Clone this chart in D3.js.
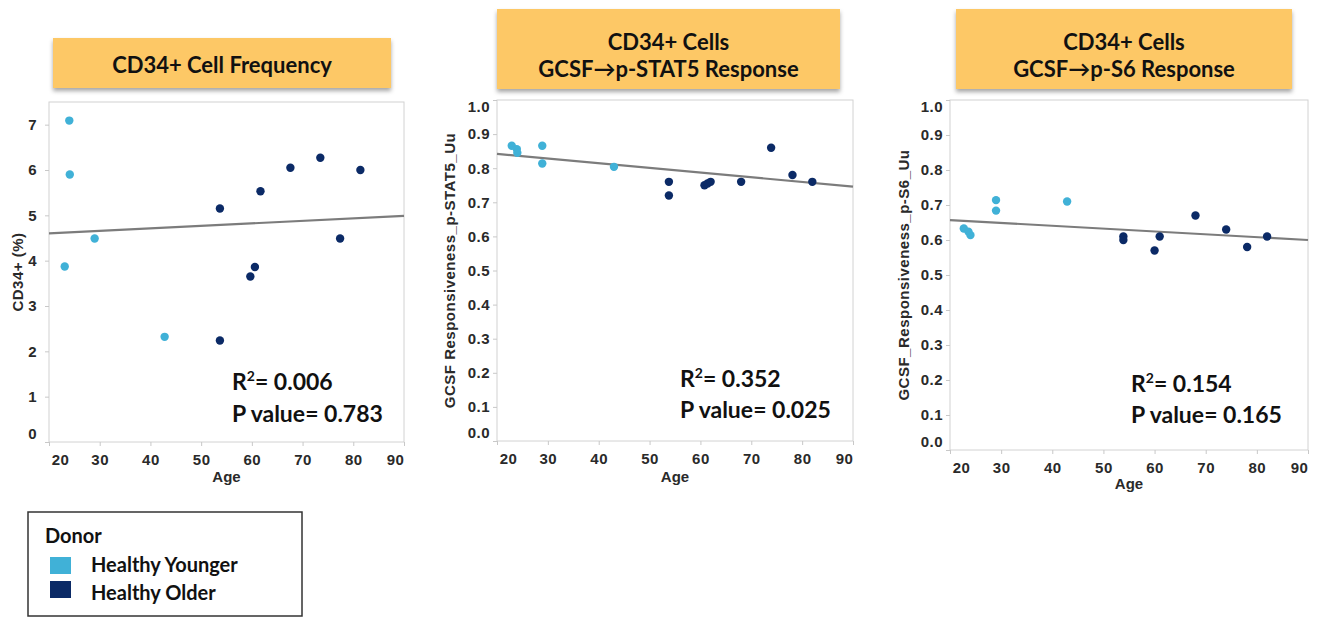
<!DOCTYPE html>
<html>
<head>
<meta charset="utf-8">
<script src="https://cdn.jsdelivr.net/npm/d3@7"></script>
<style>
body { margin: 0; background: #fff; }
.tick text { font-family: "Liberation Sans", Arial, sans-serif; font-weight: bold; font-size: 15px; fill: #2a2a2a; letter-spacing: 0.5px; }
.tick line { stroke: #c8c8c8; }
.axis-title { font-family: "Liberation Sans", Arial, sans-serif; font-weight: bold; font-size: 15px; fill: #2a2a2a; }
.header { font-family: Lato, "Open Sans", sans-serif; font-weight: bold; font-size: 22px; fill: #111; }
.stat { font-family: Lato, "Open Sans", sans-serif; font-weight: bold; font-size: 23px; fill: #111; }
.legend { font-family: Lato, "Open Sans", sans-serif; font-weight: bold; font-size: 20px; fill: #111; }
</style>
</head>
<body>
<svg id="chart" width="1321" height="618"></svg>
<script>
// donor groups
var groups = ["Healthy Younger", "Healthy Older"];
var groupColors = ["#40b1d7", "#0b2a66"];

// CD34+ cell frequency (%)
var freqYoungAge = [24.0, 24.1, 29.0, 23.1, 42.8];
var freqYoungVal = [7.09, 5.90, 4.49, 3.87, 2.32];
var freqOldAge = [53.7, 53.7, 61.7, 59.7, 60.6, 67.6, 73.5, 77.4, 81.4];
var freqOldVal = [5.15, 2.24, 5.53, 3.65, 3.86, 6.05, 6.27, 4.49, 6.00];
var freqFit = [4.60, 4.99];   // fitted value at age 20 and 90

// GCSF -> p-STAT5 responsiveness
var stat5YoungAge = [22.9, 23.9, 24.0, 28.9, 28.9, 43.0];
var stat5YoungVal = [0.866, 0.856, 0.845, 0.866, 0.814, 0.804];
var stat5OldAge = [53.8, 53.8, 60.8, 61.4, 62.0, 68.0, 73.9, 78.1, 82.0];
var stat5OldVal = [0.76, 0.72, 0.75, 0.755, 0.76, 0.76, 0.86, 0.78, 0.76];
var stat5Fit = [0.842, 0.746];

// GCSF -> p-S6 responsiveness
var s6YoungAge = [22.7, 23.6, 24.0, 29.0, 29.0, 42.9];
var s6YoungVal = [0.633, 0.624, 0.614, 0.714, 0.684, 0.71];
var s6OldAge = [53.9, 53.9, 60.0, 61.0, 68.0, 74.0, 78.1, 82.0];
var s6OldVal = [0.61, 0.60, 0.57, 0.61, 0.67, 0.63, 0.58, 0.61];
var s6Fit = [0.657, 0.600];

var fitAges = [20, 90];
var ageTicks = [20, 30, 40, 50, 60, 70, 80, 90];
var freqTicks = [0, 1, 2, 3, 4, 5, 6, 7];
var respTicks = [0, 0.1, 0.2, 0.3, 0.4, 0.5, 0.6, 0.7, 0.8, 0.9, 1.0];

var panels = [
    { title: ["CD34+ Cell Frequency"], box: [53, 38, 338, 50], titleY: [73],
      frame: [49, 102, 355, 340], yMax: 7.5, yTicks: freqTicks, fmt: "d",
      yTitle: "CD34+ (%)", yTitleX: 23, ageY: 482,
      young: [freqYoungAge, freqYoungVal], old: [freqOldAge, freqOldVal], fit: freqFit,
      r2: "0.006", p: "0.783", statX: 232, statY: [390, 422] },
    { title: ["CD34+ Cells", "GCSF\u2192p-STAT5 Response"], box: [497, 9, 343, 80], titleY: [50, 77],
      frame: [497, 100, 356, 341], yMax: 1.0, yTicks: respTicks, fmt: ".1f",
      yTitle: "GCSF Responsiveness_p-STAT5_Uu", yTitleX: 455, ageY: 482,
      young: [stat5YoungAge, stat5YoungVal], old: [stat5OldAge, stat5OldVal], fit: stat5Fit,
      r2: "0.352", p: "0.025", statX: 680, statY: [387, 418] },
    { title: ["CD34+ Cells", "GCSF\u2192p-S6 Response"], box: [956, 9, 336, 80], titleY: [50, 77],
      frame: [950, 100, 358, 350], yMax: 1.0, yTicks: respTicks, fmt: ".1f",
      yTitle: "GCSF_Responsiveness_p-S6_Uu", yTitleX: 909, ageY: 489,
      young: [s6YoungAge, s6YoungVal], old: [s6OldAge, s6OldVal], fit: s6Fit,
      r2: "0.154", p: "0.165", statX: 1131, statY: [392, 423] }
];

var svg = d3.select("#chart");

var filter = svg.append("defs").append("filter")
    .attr("id", "shadow")
    .attr("x", "-5%").attr("y", "-10%")
    .attr("width", "110%").attr("height", "130%");
filter.append("feDropShadow")
    .attr("dx", 0).attr("dy", 3)
    .attr("stdDeviation", 2)
    .attr("flood-color", "#000")
    .attr("flood-opacity", 0.35);

panels.forEach(function (p) {
    var fx = p.frame[0], fy = p.frame[1], fw = p.frame[2], fh = p.frame[3];

    // header box
    svg.append("rect")
        .attr("x", p.box[0]).attr("y", p.box[1])
        .attr("width", p.box[2]).attr("height", p.box[3])
        .attr("fill", "#fdc866")
        .attr("filter", "url(#shadow)");
    p.title.forEach(function (t, i) {
        svg.append("text")
            .attr("class", "header")
            .attr("x", p.box[0] + p.box[2] / 2)
            .attr("y", p.titleY[i])
            .attr("text-anchor", "middle")
            .text(t);
    });

    var x = d3.scaleLinear().domain([20, 90]).range([0, fw]);
    var y = d3.scaleLinear().domain([0, p.yMax]).range([fh, 0]);

    var g = svg.append("g").attr("transform", "translate(" + fx + "," + fy + ")");

    g.append("rect")
        .attr("width", fw).attr("height", fh)
        .attr("fill", "#fff")
        .attr("stroke", "#d2d2d2");

    var xAxis = g.append("g")
        .attr("transform", "translate(0," + fh + ")")
        .call(d3.axisBottom(x).tickValues(ageTicks).tickSize(4).tickSizeOuter(0).tickPadding(8));
    xAxis.select(".domain").remove();
    // end labels are pulled inward, like the original
    xAxis.selectAll(".tick text")
        .attr("dx", function (d) { return d === 20 ? 11 : (d === 90 ? -9 : 0); });

    var yAxis = g.append("g")
        .call(d3.axisLeft(y).tickValues(p.yTicks).tickSize(4).tickSizeOuter(0)
            .tickPadding(p.fmt === "d" ? 8 : 3).tickFormat(d3.format(p.fmt)));
    yAxis.select(".domain").remove();
    yAxis.selectAll(".tick text")
        .attr("transform", function (d) {
            if (d === 0) return "translate(0,-8)";
            if (d === p.yMax) return "translate(0,7)";
            return null;
        });

    // fit line
    g.append("line")
        .attr("x1", x(fitAges[0])).attr("y1", y(p.fit[0]))
        .attr("x2", x(fitAges[1])).attr("y2", y(p.fit[1]))
        .attr("stroke", "#7c7c7c")
        .attr("stroke-width", 2.2);

    [p.young, p.old].forEach(function (s, gi) {
        var pts = s[0].map(function (a, i) { return { age: a, val: s[1][i] }; });
        g.selectAll(null)
            .data(pts)
            .enter().append("circle")
            .attr("cx", function (d) { return x(d.age); })
            .attr("cy", function (d) { return y(d.val); })
            .attr("r", 4.2)
            .attr("fill", groupColors[gi]);
    });

    svg.append("text")
        .attr("class", "axis-title")
        .attr("x", fx + fw / 2)
        .attr("y", p.ageY)
        .attr("text-anchor", "middle")
        .text("Age");

    svg.append("text")
        .attr("class", "axis-title")
        .attr("transform", "translate(" + p.yTitleX + "," + (fy + fh / 2) + ") rotate(-90)")
        .attr("text-anchor", "middle")
        .style("letter-spacing", "0.5px")
        .text(p.yTitle);

    var r = svg.append("text")
        .attr("class", "stat")
        .attr("x", p.statX)
        .attr("y", p.statY[0]);
    r.append("tspan").text("R");
    r.append("tspan").attr("dy", -9).style("font-size", "14px").text("2");
    r.append("tspan").attr("dy", 9).text("= " + p.r2);

    svg.append("text")
        .attr("class", "stat")
        .attr("x", p.statX)
        .attr("y", p.statY[1])
        .text("P value= " + p.p);
});

// legend
var legend = svg.append("g");
legend.append("rect")
    .attr("x", 28).attr("y", 512)
    .attr("width", 274).attr("height", 104)
    .attr("fill", "#fff")
    .attr("stroke", "#333")
    .attr("stroke-width", 1.5);
legend.append("text")
    .attr("class", "legend")
    .attr("x", 45).attr("y", 543)
    .text("Donor");
groups.forEach(function (name, i) {
    legend.append("rect")
        .attr("x", 50).attr("y", 557 + i * 24)
        .attr("width", 21).attr("height", 17)
        .attr("fill", groupColors[i]);
    legend.append("text")
        .attr("class", "legend")
        .attr("x", 91).attr("y", 572 + i * 28)
        .text(name);
});
</script>
</body>
</html>
